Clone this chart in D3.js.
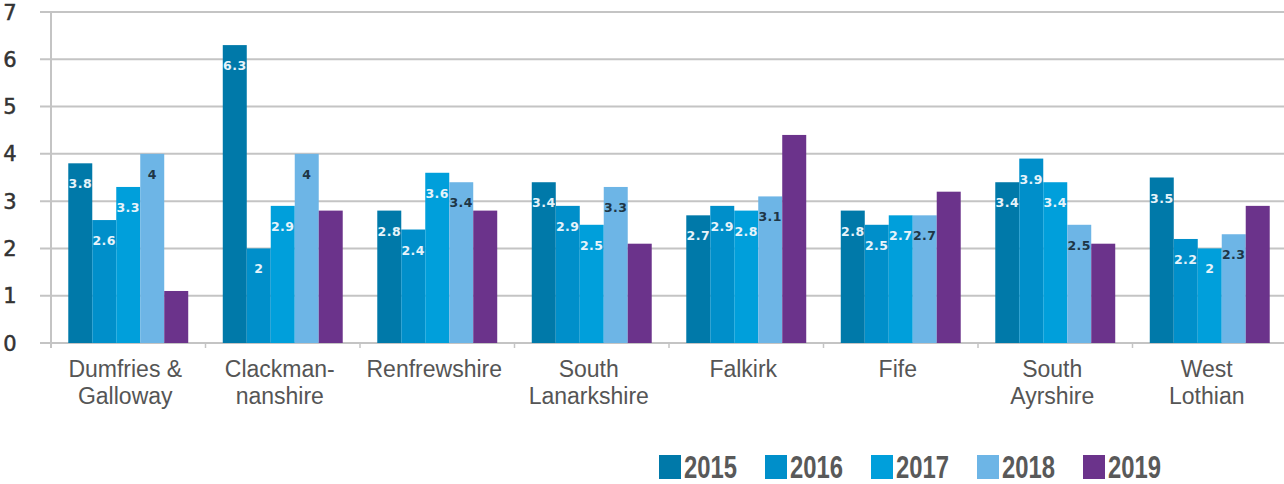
<!DOCTYPE html>
<html>
<head>
<meta charset="utf-8">
<script src="https://cdn.jsdelivr.net/npm/d3@7"></script>
<style>
  body { margin: 0; background: #fff; }
  svg { display: block; }
</style>
</head>
<body>
<svg id="chart" width="1284" height="484"></svg>
<script>
const categories = [
  ["Dumfries &", "Galloway"],
  ["Clackman-", "nanshire"],
  ["Renfrewshire"],
  ["South", "Lanarkshire"],
  ["Falkirk"],
  ["Fife"],
  ["South", "Ayrshire"],
  ["West", "Lothian"]
];
const years = ["2015", "2016", "2017", "2018", "2019"];
const v2015 = [3.8, 6.3, 2.8, 3.4, 2.7, 2.8, 3.4, 3.5];
const v2016 = [2.6, 2.0, 2.4, 2.9, 2.9, 2.5, 3.9, 2.2];
const v2017 = [3.3, 2.9, 3.6, 2.5, 2.8, 2.7, 3.4, 2.0];
const v2018 = [4.0, 4.0, 3.4, 3.3, 3.1, 2.7, 2.5, 2.3];
const v2019 = [1.1, 2.8, 2.8, 2.1, 4.4, 3.2, 2.1, 2.9];
const yTicks = [0, 1, 2, 3, 4, 5, 6, 7];

const series = [v2015, v2016, v2017, v2018, v2019];
const colors = ["#0079a9", "#008fca", "#009fdb", "#6db5e6", "#6b338b"];
const labelColors = ["#e6f3fa", "#e6f3fa", "#e6f3fa", "#1e3646", null];

const svg = d3.select("#chart");
const margin = { top: 12, left: 51, bottom: 141 };
const plotRight = 1287;
const height = +svg.attr("height");

const x = d3.scaleBand()
  .domain(d3.range(categories.length))
  .range([margin.left, plotRight]);

const xInner = d3.scaleBand()
  .domain(years)
  .range([0, x.bandwidth()])
  .paddingOuter(0.72);

const y = d3.scaleLinear()
  .domain([0, 7])
  .range([height - margin.bottom, margin.top]);

// gridlines
svg.append("g")
  .selectAll("line")
  .data(yTicks)
  .join("line")
  .attr("x1", margin.left - 11)
  .attr("x2", plotRight)
  .attr("y1", d => y(d))
  .attr("y2", d => y(d))
  .attr("stroke", "#c4c4c4")
  .attr("stroke-width", 2);

// y axis line
svg.append("line")
  .attr("x1", margin.left).attr("x2", margin.left)
  .attr("y1", y(7)).attr("y2", y(0) + 5)
  .attr("stroke", "#c4c4c4").attr("stroke-width", 2);

// y tick labels
svg.append("g")
  .selectAll("text")
  .data(yTicks)
  .join("text")
  .attr("x", 10)
  .attr("y", d => y(d))
  .attr("dy", "0.36em")
  .attr("text-anchor", "middle")
  .attr("font-family", "DejaVu Sans, Verdana, sans-serif")
  .attr("font-size", 21)
  .attr("fill", "#333")
  .attr("stroke", "#333")
  .attr("stroke-width", 0.5)
  .text(d => d);

// category tick marks
svg.append("g")
  .selectAll("line")
  .data(d3.range(1, categories.length + 1))
  .join("line")
  .attr("x1", i => margin.left + i * x.step())
  .attr("x2", i => margin.left + i * x.step())
  .attr("y1", y(0))
  .attr("y2", y(0) + 5)
  .attr("stroke", "#c4c4c4")
  .attr("stroke-width", 1.5);

// bars
const groups = svg.append("g")
  .selectAll("g")
  .data(categories.map((c, i) => i))
  .join("g")
  .attr("transform", i => `translate(${x(i)},0)`);

groups.selectAll("rect")
  .data(i => series.map((s, k) => ({ k, v: s[i] })))
  .join("rect")
  .attr("x", d => xInner(years[d.k]))
  .attr("width", xInner.bandwidth())
  .attr("y", d => y(d.v))
  .attr("height", d => y(0) - y(d.v))
  .attr("fill", d => colors[d.k]);

groups.selectAll("text")
  .data(i => series.map((s, k) => ({ k, v: s[i] })).filter(d => labelColors[d.k]))
  .join("text")
  .attr("x", d => xInner(years[d.k]) + xInner.bandwidth() / 2)
  .attr("y", d => y(d.v) + 25)
  .attr("text-anchor", "middle")
  .attr("font-family", "DejaVu Sans, Verdana, sans-serif")
  .attr("font-size", 12.5)
  .attr("font-weight", "bold")
  .attr("letter-spacing", 0.5)
  .attr("fill", d => labelColors[d.k])
  .text(d => d.v);

// category labels
const catLabels = svg.append("g")
  .selectAll("text")
  .data(categories)
  .join("text")
  .attr("x", (d, i) => x(i) + x.bandwidth() / 2 - 3)
  .attr("y", 377)
  .attr("text-anchor", "middle")
  .attr("font-family", "Liberation Sans, Arial, sans-serif")
  .attr("font-size", 23)
  .attr("fill", "#555");

catLabels.selectAll("tspan")
  .data(d => d)
  .join("tspan")
  .attr("x", function () { return d3.select(this.parentNode).attr("x"); })
  .attr("dy", (d, j) => j === 0 ? 0 : 27)
  .text(d => d);

// legend
const legend = svg.append("g")
  .selectAll("g")
  .data(years)
  .join("g")
  .attr("transform", (d, i) => `translate(${659 + i * 106},455)`);

legend.append("rect")
  .attr("width", 22)
  .attr("height", 24)
  .attr("fill", (d, i) => colors[i]);

legend.append("text")
  .attr("x", 25)
  .attr("y", 23)
  .attr("font-family", "Liberation Sans, Arial, sans-serif")
  .attr("font-size", 31)
  .attr("font-weight", "bold")
  .attr("textLength", 53)
  .attr("lengthAdjust", "spacingAndGlyphs")
  .attr("fill", "#595959")
  .text(d => d);
</script>
</body>
</html>
